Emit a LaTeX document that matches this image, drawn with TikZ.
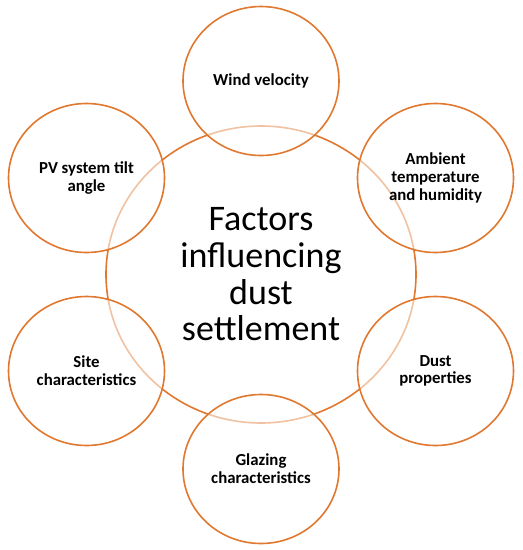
\documentclass[tikz,border=0pt]{standalone}
\usepackage{fontspec}
\setmainfont{Carlito}
\usetikzlibrary{shapes.geometric}
\definecolor{ora}{HTML}{E0782F}
\tikzset{
  outer/.style={ellipse, draw=ora, line width=1.6pt, fill=white, fill opacity=0.55, text opacity=1,
    minimum width=156pt, minimum height=149pt, inner sep=0pt, align=center,
    font=\fontsize{16.8}{17.7}\selectfont\bfseries},
  centre/.style={ellipse, draw=ora, line width=1.6pt, minimum width=310pt, minimum height=297pt,
    inner sep=0pt, align=center, font=\fontsize{36}{36.7}\selectfont}
}
\begin{document}
\begin{tikzpicture}[x=1pt,y=-1pt]
\useasboundingbox (0,0) rectangle (523,550);
\node[centre] (c) at (261,274.5) {Factors\\influencing\\dust\\settlement};
\node[outer] (w) at (261,81) {Wind velocity};
\node[outer] (pv) at (86.5,178) {PV system tilt\\angle};
\node[outer] (a) at (435.5,178) {Ambient\\temperature\\and humidity};
\node[outer] (s) at (86.5,371) {Site\\characteristics};
\node[outer] (d) at (435.5,371) {Dust\\properties};
\node[outer] (g) at (261,469) {Glazing\\characteristics};
\end{tikzpicture}
\end{document}
